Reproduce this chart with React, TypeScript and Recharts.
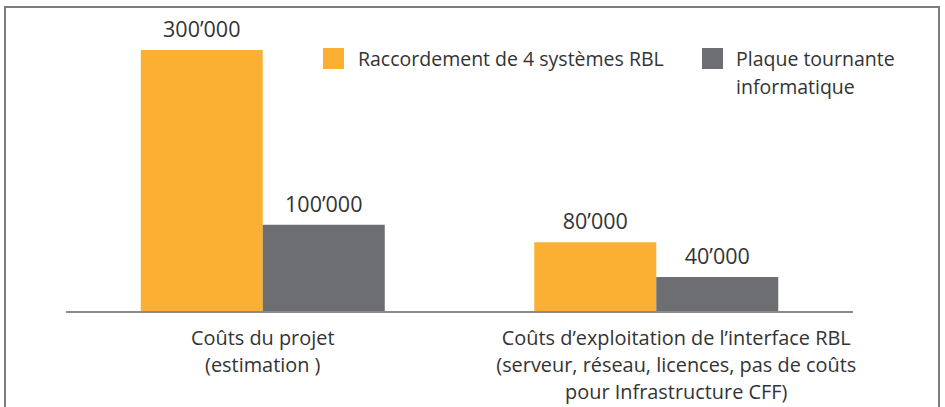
import React from 'react';
import { BarChart, Bar, XAxis, YAxis, LabelList } from 'recharts';

const categories = ['Coûts du projet\n(estimation )', 'Coûts d’exploitation de l’interface RBL\n(serveur, réseau, licences, pas de coûts\npour Infrastructure CFF)'];
const raccordement = [300000, 80000];
const plaque = [100000, 40000];
const seriesNames = ['Raccordement de 4 systèmes RBL', 'Plaque tournante informatique'];
const colors = ['#FBB034', '#6D6E71'];

const data = categories.map((c, i) => ({ category: c, raccordement: raccordement[i], plaque: plaque[i] }));

const FONT = '"Open Sans", sans-serif';
const TEXT = '#333333';
const TICK_SHIFT = [0, 20];

const fmt = (v: any) => String(v).replace(/\B(?=(\d{3})+(?!\d))/g, '’');

const Tick = (props: any) => {
  const { x, y, payload, index } = props;
  const lines = String(payload.value).split('\n');
  const cx = x + (TICK_SHIFT[index] || 0);
  return (
    <text x={cx} y={y} textAnchor="middle" fill={TEXT} fontFamily={FONT} fontSize={19.9}>
      {lines.map((l, i) => (
        <tspan key={i} x={cx} y={y + 25 + i * 27}>{l}</tspan>
      ))}
    </text>
  );
};

const LegendBox = () => {
  const items = [
    { name: seriesNames[0], color: colors[0], sq: 323, tx: 358, w: 320 },
    { name: seriesNames[1], color: colors[1], sq: 702, tx: 736, w: 175 },
  ];
  return (
    <div style={{ position: 'absolute', left: 0, top: 0, width: 945, height: 100, pointerEvents: 'none' }}>
      {items.map((it, i) => (
        <React.Fragment key={i}>
          <div style={{ position: 'absolute', left: it.sq, top: 48, width: 21, height: 21, background: it.color }} />
          <div style={{ position: 'absolute', left: it.tx, top: 45, width: it.w, fontFamily: FONT, fontSize: 19.5, lineHeight: '28px', color: TEXT }}>{it.name}</div>
        </React.Fragment>
      ))}
    </div>
  );
};

export default function App() {
  return (
    <div style={{ position: 'absolute', left: 0, top: 0, width: 945, height: 407, overflow: 'hidden', background: '#fff' }}>
      <div style={{ position: 'absolute', left: 4, top: 6, width: 936, height: 440, border: '2px solid #7d7d7d', boxSizing: 'border-box' }} />
      <BarChart width={945} height={407} data={data} margin={{ top: 50, right: 92, left: 66, bottom: 0 }} barCategoryGap="19%" barGap={0}>
        <XAxis dataKey="category" height={95} interval={0} tickLine={false} axisLine={{ stroke: '#8a8a8a', strokeWidth: 2 }} tick={<Tick />} />
        <YAxis hide domain={[0, 300000]} />
        <Bar dataKey="raccordement" name={seriesNames[0]} fill={colors[0]} isAnimationActive={false}>
          <LabelList dataKey="raccordement" position="top" offset={13} formatter={fmt} fill={TEXT} fontFamily={FONT} fontSize={21.5} />
        </Bar>
        <Bar dataKey="plaque" name={seriesNames[1]} fill={colors[1]} isAnimationActive={false}>
          <LabelList dataKey="plaque" position="top" offset={13} formatter={fmt} fill={TEXT} fontFamily={FONT} fontSize={21.5} />
        </Bar>
      </BarChart>
      <LegendBox />
    </div>
  );
}
